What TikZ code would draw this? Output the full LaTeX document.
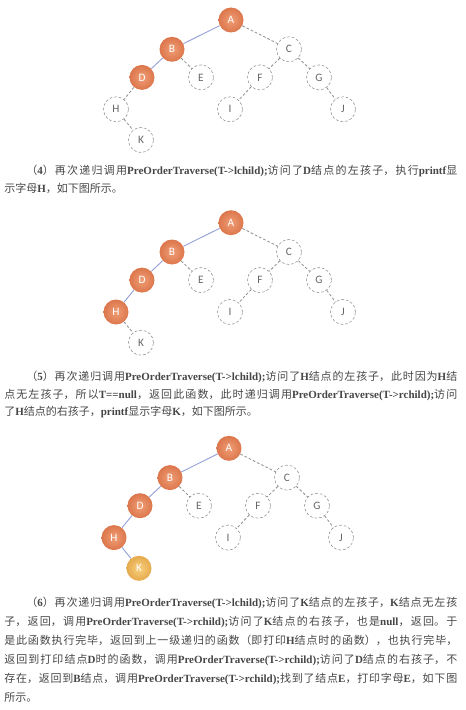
\documentclass[tikz,border=0pt]{standalone}
\usepackage{fontspec}
\setmainfont{Noto Sans CJK SC}
\newfontfamily\enfont{Liberation Serif}
\newfontfamily\nodefont{Carlito}
\XeTeXlinebreaklocale "zh"
\XeTeXlinebreakskip=0pt plus 1pt
\tolerance=10000
\definecolor{visited}{RGB}{220,118,76}
\definecolor{visitedin}{RGB}{240,158,118}
\definecolor{current}{RGB}{230,170,76}
\definecolor{currentin}{RGB}{248,208,128}
\definecolor{edgeblue}{RGB}{150,162,216}
\definecolor{todogray}{RGB}{140,140,140}
\definecolor{textgray}{RGB}{70,70,70}
\newcommand{\enbf}[1]{{\enfont\bfseries #1}}

\begin{document}
\begin{tikzpicture}[x=0.75pt,y=-0.75pt,
    todo/.style={circle,draw=todogray,dash pattern=on 2pt off 1.5pt,fill=white,
        minimum size=18.75pt,inner sep=0pt,text=black!60,font=\nodefont\fontsize{8.5}{9}\selectfont},
    done/.style={circle,inner color=visitedin,outer color=visited,
        minimum size=18.75pt,inner sep=0pt,text=white,font=\nodefont\fontsize{8.5}{9}\selectfont},
    cur/.style={done,inner color=currentin,outer color=current},
    todoedge/.style={todogray,dash pattern=on 2pt off 1.5pt,line width=0.6pt},
    doneedge/.style={edgeblue,line width=0.7pt},
    para/.style={anchor=north west,text width=339.75pt,align=justify,inner sep=0pt,text=textgray}]
    \useasboundingbox (0,0) rectangle (465,710);

    % the three trees
    \foreach \t/\dx/\dy/\hst/\kst/\dhe/\hke in {a/0/20/todo/todo/todoedge/todoedge,
        b/0/222.7/done/todo/doneedge/todoedge, c/-2/448.3/done/cur/doneedge/doneedge}{
        \begin{scope}[shift={(\dx,\dy)}]
            \node[done] (\t-A) at (231,0) {A};
            \node[done] (\t-B) at (172,29.3) {B};
            \node[todo] (\t-C) at (289,29.3) {C};
            \node[done] (\t-D) at (142,57.4) {D};
            \node[todo] (\t-E) at (201,57.4) {E};
            \node[todo] (\t-F) at (260,57.4) {F};
            \node[todo] (\t-G) at (319,57.4) {G};
            \node[\hst] (\t-H) at (116,89.3) {H};
            \node[todo] (\t-I) at (230,89.3) {I};
            \node[todo] (\t-J) at (343,89.3) {J};
            \node[\kst] (\t-K) at (141,120) {K};

            \draw[doneedge] (\t-A) -- (\t-B);
            \draw[doneedge] (\t-B) -- (\t-D);
            \draw[\dhe] (\t-D) -- (\t-H);
            \draw[\hke] (\t-H) -- (\t-K);
            \draw[todoedge] (\t-A) -- (\t-C);
            \draw[todoedge] (\t-B) -- (\t-E);
            \draw[todoedge] (\t-C) -- (\t-F);
            \draw[todoedge] (\t-C) -- (\t-G);
            \draw[todoedge] (\t-F) -- (\t-I);
            \draw[todoedge] (\t-G) -- (\t-J);
        \end{scope}
    }

    % the steps
    \node[para,font=\fontsize{8.25}{13.1}\selectfont] (step4) at (4,165) {\hspace*{2em}（\enbf{4}）再次递归调用\enbf{PreOrderTraverse(T->lchild);}访问了\enbf{D}结点的左孩子，执行\enbf{printf}显\linebreak
        示字母\enbf{H}，如下图所示。};
    \node[para,font=\fontsize{8.25}{13.1}\selectfont] (step5) at (4,371) {\hspace*{2em}（\enbf{5}）再次递归调用\enbf{PreOrderTraverse(T->lchild);}访问了\enbf{H}结点的左孩子，此时因为\enbf{H}结\linebreak
        点无左孩子，所以\enbf{T==null}，返回此函数，此时递归调用\enbf{PreOrderTraverse(T->rchild);}访问\linebreak
        了\enbf{H}结点的右孩子，\enbf{printf}显示字母\enbf{K}，如下图所示。};
    \node[para,font=\fontsize{8.25}{14.25}\selectfont] (step6) at (4,597) {\hspace*{2em}（\enbf{6}）再次递归调用\enbf{PreOrderTraverse(T->lchild);}访问了\enbf{K}结点的左孩子，\enbf{K}结点无左孩\linebreak
        子，返回，调用\enbf{PreOrderTraverse(T->rchild);}访问了\enbf{K}结点的右孩子，也是\enbf{null}，返回。于\linebreak
        是此函数执行完毕，返回到上一级递归的函数（即打印\enbf{H}结点时的函数），也执行完毕，\linebreak
        返回到打印结点\enbf{D}时的函数，调用\enbf{PreOrderTraverse(T->rchild);}访问了\enbf{D}结点的右孩子，不\linebreak
        存在，返回到\enbf{B}结点，调用\enbf{PreOrderTraverse(T->rchild);}找到了结点\enbf{E}，打印字母\enbf{E}，如下图\linebreak
        所示。};
\end{tikzpicture}
\end{document}
